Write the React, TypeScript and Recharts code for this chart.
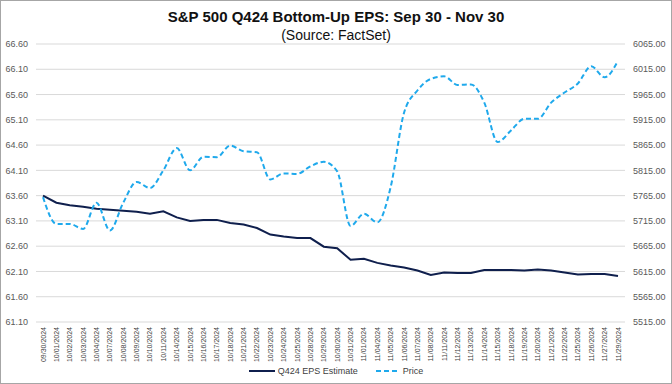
import { LineChart, Line, XAxis, YAxis, CartesianGrid } from 'recharts';

const dates = [
  '09/30/2024', '10/01/2024', '10/02/2024', '10/03/2024', '10/04/2024', '10/07/2024',
  '10/08/2024', '10/09/2024', '10/10/2024', '10/11/2024', '10/14/2024', '10/15/2024',
  '10/16/2024', '10/17/2024', '10/18/2024', '10/21/2024', '10/22/2024', '10/23/2024',
  '10/24/2024', '10/25/2024', '10/28/2024', '10/29/2024', '10/30/2024', '10/31/2024',
  '11/01/2024', '11/04/2024', '11/05/2024', '11/06/2024', '11/07/2024', '11/08/2024',
  '11/11/2024', '11/12/2024', '11/13/2024', '11/14/2024', '11/15/2024', '11/18/2024',
  '11/19/2024', '11/20/2024', '11/21/2024', '11/22/2024', '11/25/2024', '11/26/2024',
  '11/27/2024', '11/29/2024',
];

const epsEstimate = [
  63.6, 63.46, 63.41, 63.38, 63.34, 63.32, 63.3, 63.28, 63.24, 63.29, 63.17, 63.1,
  63.12, 63.12, 63.06, 63.03, 62.96, 62.83, 62.79, 62.76, 62.76, 62.59, 62.56, 62.33,
  62.35, 62.27, 62.22, 62.18, 62.12, 62.03, 62.08, 62.07, 62.07, 62.13, 62.13, 62.13,
  62.12, 62.14, 62.12, 62.08, 62.04, 62.05, 62.05, 62.01,
];

const price = [
  5762, 5709, 5709, 5699, 5751, 5696, 5751, 5792, 5780, 5815, 5859, 5815,
  5842, 5841, 5864, 5853, 5851, 5797, 5809, 5808, 5823, 5832, 5813, 5705,
  5729, 5712, 5782, 5929, 5973, 5996, 6001, 5984, 5985, 5949, 5871, 5894,
  5917, 5917, 5949, 5969, 5987, 6021, 5999, 6032,
];

const epsTicks = [61.1, 61.6, 62.1, 62.6, 63.1, 63.6, 64.1, 64.6, 65.1, 65.6, 66.1, 66.6];
const priceTicks = [5515, 5565, 5615, 5665, 5715, 5765, 5815, 5865, 5915, 5965, 6015, 6065];

const data = dates.map((d, i) => ({ date: d, eps: epsEstimate[i], price: price[i] }));

const EPS_COLOR = '#0f1f4d';
const PRICE_COLOR = '#1fa9ec';
const FONT = '"Liberation Sans", Arial, sans-serif';

const DateTick = ({ x, y, payload }: any) => (
  <text
    x={x}
    y={y}
    transform={`rotate(-90 ${x} ${y})`}
    textAnchor="end"
    dominantBaseline="central"
    fontSize={7}
    fontFamily={FONT}
    fill="#404040"
  >
    {payload.value}
  </text>
);

export default function App() {
  return (
    <div style={{ position: 'absolute', left: 0, top: 0, width: 672, height: 384, background: '#fff', fontFamily: FONT }}>
      <div style={{ position: 'absolute', top: 8, width: 672, textAlign: 'center', fontSize: 15, fontWeight: 'bold', color: '#111' }}>
        S&amp;P 500 Q424 Bottom-Up EPS: Sep 30 - Nov 30
      </div>
      <div style={{ position: 'absolute', top: 27, width: 672, textAlign: 'center', fontSize: 14, color: '#111' }}>
        (Source: FactSet)
      </div>
      <LineChart width={672} height={384} data={data} margin={{ top: 44, right: 0, bottom: 0, left: 0 }}>
        <CartesianGrid yAxisId="left" vertical={false} stroke="#d9d9d9" />
        <XAxis
          dataKey="date"
          interval={0}
          height={62}
          padding={{ left: 7, right: 7 }}
          axisLine={false}
          tickLine={false}
          tickSize={0}
          tickMargin={5}
          tick={<DateTick />}
        />
        <YAxis
          yAxisId="left"
          width={36}
          domain={[61.1, 66.6]}
          ticks={epsTicks}
          axisLine={false}
          tickLine={false}
          tickFormatter={(v: number) => v.toFixed(2)}
          tick={{ fontSize: 9, fill: '#595959', fontFamily: FONT }}
        />
        <YAxis
          yAxisId="right"
          orientation="right"
          width={47}
          domain={[5515, 6065]}
          ticks={priceTicks}
          axisLine={false}
          tickLine={false}
          tickFormatter={(v: number) => v.toFixed(2)}
          tick={{ fontSize: 9, fill: '#595959', fontFamily: FONT, textAnchor: 'start' }}
        />
        <Line
          yAxisId="left"
          type="linear"
          dataKey="eps"
          stroke={EPS_COLOR}
          strokeWidth={2}
          dot={false}
          isAnimationActive={false}
        />
        <Line
          yAxisId="right"
          type="monotone"
          dataKey="price"
          stroke={PRICE_COLOR}
          strokeWidth={2}
          strokeDasharray="5 3"
          dot={false}
          isAnimationActive={false}
        />
      </LineChart>
      <div style={{ position: 'absolute', top: 366, left: 0, width: 672, display: 'flex', justifyContent: 'center', fontSize: 9, color: '#404040' }}>
        <div style={{ display: 'flex', alignItems: 'center', marginRight: 18 }}>
          <svg width={26} height={6} style={{ marginRight: 3 }}>
            <line x1={0} y1={3} x2={26} y2={3} stroke={EPS_COLOR} strokeWidth={2} />
          </svg>
          Q424 EPS Estimate
        </div>
        <div style={{ display: 'flex', alignItems: 'center' }}>
          <svg width={24} height={6} style={{ marginRight: 3 }}>
            <line x1={0} y1={3} x2={24} y2={3} stroke={PRICE_COLOR} strokeWidth={2} strokeDasharray="5 3" />
          </svg>
          Price
        </div>
      </div>
      <div style={{ position: 'absolute', left: 0, top: 0, width: 672, height: 384, boxSizing: 'border-box', border: '1px solid #a6a6a6', pointerEvents: 'none' }} />
    </div>
  );
}
